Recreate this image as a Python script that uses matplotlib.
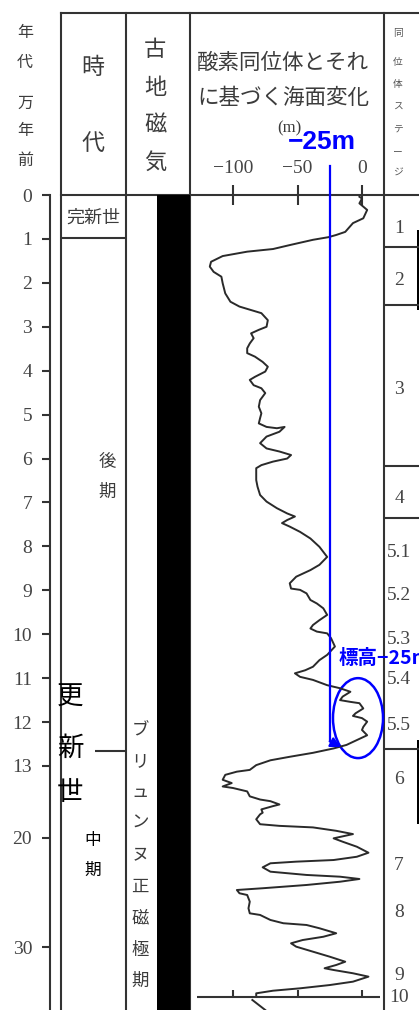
import numpy as np
import matplotlib
matplotlib.use("Agg")
import matplotlib.pyplot as plt
from matplotlib.patches import Ellipse

plt.rcParams['font.family'] = ['Noto Sans CJK JP', 'DejaVu Sans']

# Sea-level curve: age (10^4 years ago) and sea level (m)
AGE = [0.04, 0.08, 0.19, 0.34, 0.53, 0.64, 0.84, 0.91, 0.96, 1.02,
       1.14, 1.23, 1.29, 1.39, 1.52, 1.63, 1.75, 1.86, 2.01, 2.24,
       2.43, 2.54, 2.62, 2.69, 2.85, 3.00, 3.07, 3.15, 3.26, 3.38,
       3.49, 3.60, 3.68, 3.80, 3.91, 4.02, 4.14, 4.21, 4.33, 4.40,
       4.51, 4.67, 4.82, 4.97, 5.08, 5.20, 5.28, 5.31, 5.28, 5.39,
       5.50, 5.65, 5.77, 5.84, 5.92, 6.00, 6.07, 6.15, 6.22, 6.49,
       6.64, 6.83, 6.98, 7.13, 7.25, 7.32, 7.40, 7.47, 7.55, 7.67,
       7.82, 8.01, 8.24, 8.42, 8.54, 8.69, 8.84, 8.96, 8.99, 9.07,
       9.22, 9.30, 9.41, 9.56, 9.68, 9.79, 9.87, 9.94, 9.98, 10.09,
       10.28, 10.47, 10.59, 10.74, 10.82, 10.89, 10.97, 11.04, 11.16, 11.23,
       11.31, 11.42, 11.50, 11.54, 11.57, 11.69, 11.80, 11.86, 11.91, 11.99,
       12.11, 12.18, 12.30, 12.41, 12.52, 12.60, 12.70, 12.79, 12.87, 12.98,
       13.38, 13.55, 13.86, 14.34, 14.66, 14.99, 15.14, 15.47, 15.95, 16.26,
       16.42, 16.74, 16.90, 17.22, 17.54, 17.70, 18.18, 18.66, 18.82, 18.97,
       19.30, 19.62, 20.03, 20.34, 20.80, 21.35, 21.72, 22.02, 22.17, 22.32,
       22.69, 23.09, 23.39, 23.55, 23.76, 24.01, 24.31, 24.61, 24.77, 25.07,
       25.23, 25.84, 26.45, 26.91, 27.06, 27.52, 27.82, 27.98, 28.28, 28.74,
       29.06, 29.36, 29.66, 29.97, 30.43, 30.89, 31.35, 31.65, 31.95, 32.11,
       32.41, 32.72, 33.18, 33.49, 33.79, 34.01, 34.25, 34.56]
SEA = [-2, 0, -2, 4, 1, -7, -13, -20, -26, -38,
       -56, -69, -89, -108, -117, -118, -115, -109, -108, -106,
       -102, -95, -86, -78, -73, -74, -80, -86, -84, -87,
       -89, -89, -83, -77, -73, -75, -83, -87, -84, -78,
       -75, -79, -80, -78, -79, -80, -74, -66, -60, -64,
       -74, -79, -74, -64, -55, -58, -69, -78, -82, -82,
       -81, -79, -74, -66, -58, -52, -58, -62, -56, -48,
       -40, -33, -27, -33, -40, -51, -56, -55, -48, -43,
       -40, -35, -30, -27, -33, -38, -40, -35, -27, -24,
       -21, -27, -33, -38, -44, -52, -48, -38, -27, -17,
       -9, -15, -17, -9, -2, 1, -5, -7, 0, 4,
       1, 0, 4, -4, -12, -22, -38, -56, -71, -82,
       -87, -97, -106, -108, -101, -108, -100, -89, -87, -79,
       -71, -64, -69, -78, -77, -79, -82, -79, -64, -38,
       -20, -7, -22, -15, -4, 5, -4, -22, -51, -71,
       -77, -71, -43, -17, -2, -17, -43, -77, -97, -95,
       -89, -87, -88, -87, -79, -71, -61, -43, -33, -20,
       -30, -46, -55, -51, -38, -25, -13, -20, -29, -22,
       -7, 5, -7, -25, -48, -69, -82, -82]
# start of the next panel's curve, below its axis line
TAIL_AGE = [34.86, 35.78]
TAIL_SEA = [-85, -75]

AGE_TICKS = [0, 1, 2, 3, 4, 5, 6, 7, 8, 9, 10, 11, 12, 13, 20, 30]
SEA_TICKS = [-100, -50, 0]
SEA_TICK_LABELS = ['\u2212100', '\u221250', '0']

HOLOCENE_END = 0.98
LATE_MIDDLE = 12.65
STAGE_BOUNDS = [1.18, 2.50, 6.17, 7.35, 12.61]
STAGE_LABELS = ['1', '2', '3', '4', '5.1', '5.2', '5.3', '5.4', '5.5',
                '6', '7', '8', '9', '10']
STAGE_LABEL_AGES = [0.77, 1.94, 4.42, 6.90, 8.15, 9.11, 10.11, 11.04, 12.07,
                    14.34, 22.48, 26.88, 32.57, 34.62]
RIGHT_BARS = [(0.80, 2.62), (12.41, 18.66)]
NEXT_AXIS_AGE = 34.59
NEXT_TICK_TOP = 33.94

MARK_LEVEL = -25

W, H = 419, 1010
TOP, HEAD = 13, 195
LINE = '#333333'
TXT = '#3c3c3c'

# age axis: 0-13 stretched, older part compressed
AGE_KNOTS = [-10, 0, 13, 20, 30, 50]
PX_KNOTS = [-439.2, 0, 571, 643, 752, 970]


def age_to_px(a):
    return np.interp(a, AGE_KNOTS, PX_KNOTS)


def px_to_age(p):
    return np.interp(p, PX_KNOTS, AGE_KNOTS)


AGE_MAX = float(px_to_age(H - HEAD))


def box(x0, y0, x1, y1):
    return [x0 / W, 1 - y1 / H, (x1 - x0) / W, (y1 - y0) / H]


def column_text(ax, chars, x, ys, **kw):
    for ch, y in zip(chars, ys):
        ax.text(x, y, ch, ha='center', va='center', **kw)


fig = plt.figure(figsize=(W / 100, H / 100), dpi=100)

# table frame and header
frame = fig.add_axes([0, 0, 1, 1])
frame.set_xlim(0, W)
frame.set_ylim(H, 0)
frame.axis('off')
frame.plot([61, W], [TOP, TOP], color=LINE, lw=1.5)
frame.plot([61, W], [HEAD, HEAD], color=LINE, lw=1.5)
for x in [61, 126, 190, 384]:
    frame.plot([x, x], [TOP, H], color=LINE, lw=1.5)

column_text(frame, '年代', 25, [33, 62], fontsize=11.5, color=TXT)
column_text(frame, '万年前', 25, [103, 131, 160], fontsize=11.5, color=TXT)
column_text(frame, '時代', 93, [68, 143], fontsize=16.5, color=TXT)
column_text(frame, '古地磁気', 155, [50, 88, 125, 162], fontsize=16, color=TXT)
frame.text(283, 63, '酸素同位体とそれ', ha='center', va='center', fontsize=15.5, color=TXT)
frame.text(283, 98, 'に基づく海面変化', ha='center', va='center', fontsize=15.5, color=TXT)
frame.text(289, 128, '(m)', ha='center', va='center', fontsize=12, color=TXT,
           family='Liberation Serif')
column_text(frame, '同位体ステージ', 398, [33, 62, 84, 107, 129, 151, 173],
            fontsize=7, color='#555555')

# column contents
frame.text(93, 218, '完新世', ha='center', va='center', fontsize=13, color=TXT)
column_text(frame, '後期', 107, [462, 492], fontsize=12.5, color=TXT)
column_text(frame, '中期', 93, [840, 870], fontsize=12, color='black')
column_text(frame, '更新世', 70, [697, 748, 793], fontsize=19, color='black')
column_text(frame, 'ブリュンヌ正磁極期', 140,
            [730, 761, 792, 823, 855, 887, 918, 950, 981], fontsize=12.5, color=TXT)

# age axis, period and stage columns
body = fig.add_axes(box(0, HEAD, W, H))
body.set_yscale('function', functions=(age_to_px, px_to_age))
body.set_ylim(AGE_MAX, 0)
body.set_xlim(0, W)
body.patch.set_alpha(0)
for s in ['top', 'right', 'bottom']:
    body.spines[s].set_visible(False)
body.spines['left'].set_position(('data', 50))
body.spines['left'].set_linewidth(1.5)
body.spines['left'].set_color(LINE)
body.set_xticks([])
body.set_yticks(AGE_TICKS)
body.set_yticklabels([str(t) for t in AGE_TICKS])
body.tick_params(axis='y', direction='out', length=5.8, width=1.5, pad=7,
                 labelsize=14, color=LINE, labelcolor='#444444')
for lab in body.get_yticklabels():
    lab.set_family('Liberation Serif')

body.axvspan(157, 190, color='black', lw=0)
body.hlines(HOLOCENE_END, 61, 126, color=LINE, lw=1.5)
body.hlines(LATE_MIDDLE, 95, 126, color=LINE, lw=1.5)
body.hlines(STAGE_BOUNDS, 384, W, color=LINE, lw=1.5)
for a, b in RIGHT_BARS:
    body.fill_betweenx([a, b], 416.5, W, color='black', lw=0)
for lab, a in zip(STAGE_LABELS, STAGE_LABEL_AGES):
    body.text(399, a, lab, ha='center', va='center', fontsize=14,
              color='#444444', family='Liberation Serif')

# sea-level curve
ax = fig.add_axes(box(190, HEAD, 384, H), sharey=body)
ax.set_xlim((190 - 362) / 1.29, (384 - 362) / 1.29)
ax.patch.set_alpha(0)
for s in ax.spines.values():
    s.set_visible(False)
ax.tick_params(axis='y', left=False, labelleft=False)
ax.xaxis.tick_top()
ax.set_xticks(SEA_TICKS)
ax.set_xticklabels(SEA_TICK_LABELS)
ax.tick_params(axis='x', direction='inout', length=14.4, width=1.5, pad=5.5,
               labelsize=14, color=LINE, labelcolor='#444444')
for lab in ax.get_xticklabels():
    lab.set_family('Liberation Serif')

ax.plot(SEA, AGE, color='#2a2a2a', lw=1.4)
ax.plot(TAIL_SEA, TAIL_AGE, color='#2a2a2a', lw=1.4, clip_on=False)
ax.hlines(NEXT_AXIS_AGE, -128, 14, color=LINE, lw=1.5)
ax.vlines(SEA_TICKS, NEXT_TICK_TOP, NEXT_AXIS_AGE, color=LINE, lw=1.5)

# -25 m marker
ax.plot([MARK_LEVEL, MARK_LEVEL], [-0.66, 12.44], color='blue', lw=1.6, clip_on=False)
ax.annotate('', xy=(-16.3, 12.57), xytext=(MARK_LEVEL, 12.44),
            arrowprops=dict(arrowstyle='-|>', color='blue', lw=1.6,
                            mutation_scale=15, shrinkA=0, shrinkB=0),
            annotation_clip=False)
ax.text(-31, -1.2, '\u221225m', ha='center', va='center', color='blue',
        fontsize=19, fontweight='bold', family=['Liberation Sans', 'DejaVu Sans'])
ax.add_patch(Ellipse((-3.1, 11.91), 38.8, 1.82, fill=False, ec='blue', lw=1.8,
                     clip_on=False))
ax.text(-17.8, 10.56, '標高\u221225m', ha='left', va='center', color='blue',
        fontsize=14, fontweight='bold')

fig.savefig('out.png', dpi=100)
